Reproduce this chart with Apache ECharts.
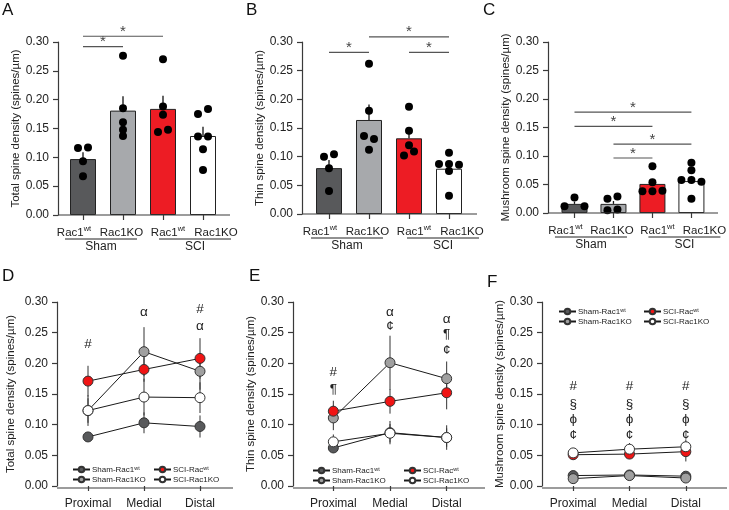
<!DOCTYPE html>
<html><head><meta charset="utf-8">
<script src="https://cdn.jsdelivr.net/npm/echarts@6/dist/echarts.min.js"></script>
<style>html,body{margin:0;padding:0;background:#fff}#c{width:729px;height:510px}</style>
</head><body><div id="c"></div>
<script>
// ---------------- DATA ----------------
const barCategories = ['Sham Rac1wt', 'Sham Rac1KO', 'SCI Rac1wt', 'SCI Rac1KO'];
const barTickMain = ['Rac1', 'Rac1KO', 'Rac1', 'Rac1KO'];
const barTickSup = ['wt', '', 'wt', ''];
const groupNames = ['Sham', 'SCI'];

const totalMean = [0.097, 0.181, 0.184, 0.137];
const totalSem = [0.012, 0.025, 0.023, 0.016];
const totalDots = [
  [0.116, 0.117, 0.093, 0.067],
  [0.276, 0.185, 0.161, 0.148, 0.137],
  [0.270, 0.188, 0.174, 0.144, 0.148],
  [0.175, 0.184, 0.136, 0.136, 0.114, 0.078]
];
const totalJitter = [[-5, 5, 0, 0], [0, 0, 0, 0, 0], [0, 0, 0, -5, 5], [-5, 5, -5, 5, 0, 0]];
const totalSig = [[0, 1, 0.292], [0, 2, 0.310]];

const thinMean = [0.080, 0.164, 0.132, 0.079];
const thinSem = [0.014, 0.027, 0.015, 0.010];
const thinDots = [
  [0.100, 0.104, 0.080, 0.040],
  [0.262, 0.180, 0.136, 0.131, 0.112],
  [0.187, 0.145, 0.120, 0.102, 0.109],
  [0.087, 0.087, 0.086, 0.107, 0.075, 0.032]
];
const thinJitter = [[-5, 5, 0, 0], [0, 0, -5, 5, 0], [0, 0, 0, -5, 5], [-10, 0, 10, 0, 0, 0]];
const thinSig = [[0, 1, 0.282], [1, 3, 0.309], [2, 3, 0.282]];

const mushMean = [0.016, 0.016, 0.051, 0.056];
const mushSem = [0.004, 0.005, 0.008, 0.009];
const mushDots = [
  [0.012, 0.027, 0.012],
  [0.025, 0.029, 0.005, 0.006],
  [0.082, 0.054, 0.038, 0.038, 0.039],
  [0.088, 0.075, 0.058, 0.058, 0.055, 0.025]
];
const mushJitter = [[-10, 0, 10], [-6, 4, -6, 4], [0, 0, -10, 0, 10], [0, 0, -10, 0, 10, 0]];
const mushSig = [[0, 3, 0.177], [0, 2, 0.152], [1, 3, 0.121], [1, 2, 0.0965]];

const locations = ['Proximal', 'Medial', 'Distal'];
const lineNames = ['Sham-Rac1wt', 'Sham-Rac1KO', 'SCI-Racwt', 'SCI-Rac1KO'];

const totalShamWt = [0.080, 0.103, 0.097], totalShamWtErr = [0.006, 0.017, 0.018];
const totalShamKO = [0.123, 0.219, 0.187], totalShamKOErr = [0.025, 0.040, 0.030];
const totalSciWt = [0.171, 0.190, 0.208], totalSciWtErr = [0.025, 0.020, 0.033];
const totalSciKO = [0.123, 0.145, 0.144], totalSciKOErr = [0.020, 0.030, 0.025];
const totalMarks = [[0, 0.231], [1, 0.284], [2, 0.288], [2, 0.261]];
const totalMarkText = ['#', 'α', '#', 'α'];

const thinShamWt = [0.062, 0.087, 0.079], thinShamWtErr = [0.008, 0.019, 0.020];
const thinShamKO = [0.111, 0.201, 0.175], thinShamKOErr = [0.020, 0.044, 0.028];
const thinSciWt = [0.122, 0.138, 0.152], thinSciWtErr = [0.017, 0.020, 0.027];
const thinSciKO = [0.072, 0.086, 0.079], thinSciKOErr = [0.012, 0.015, 0.015];
const thinMarks = [[0, 0.186], [0, 0.158], [1, 0.284], [1, 0.261], [2, 0.272], [2, 0.247], [2, 0.222]];
const thinMarkText = ['#', '¶', 'α', '¢', 'α', '¶', '¢'];

const mushShamWt = [0.017, 0.018, 0.016], mushShamWtErr = [0.003, 0.003, 0.003];
const mushShamKO = [0.012, 0.017, 0.013], mushShamKOErr = [0.003, 0.003, 0.003];
const mushSciWt = [0.051, 0.052, 0.056], mushSciWtErr = [0.006, 0.008, 0.016];
const mushSciKO = [0.054, 0.060, 0.064], mushSciKOErr = [0.006, 0.010, 0.012];
const mushMarks = [[0, 0.163], [0, 0.133], [0, 0.108], [0, 0.083],
                   [1, 0.163], [1, 0.133], [1, 0.108], [1, 0.083],
                   [2, 0.163], [2, 0.133], [2, 0.108], [2, 0.083]];
const mushMarkText = ['#', '§', 'ϕ', '¢', '#', '§', 'ϕ', '¢', '#', '§', 'ϕ', '¢'];

// ---------------- STYLE / LAYOUT ----------------
const FONT = "'Liberation Sans', Arial, Helvetica, sans-serif";
const AX = '#3a3a3a';
const barColors = ['#58595b', '#a7a9ac', '#ed1c24', '#ffffff'];
const lineFill = {'Sham-Rac1wt': '#58595b', 'Sham-Rac1KO': '#a0a0a0', 'SCI-Racwt': '#f01414', 'SCI-Rac1KO': '#ffffff'};
const labelShift = [-9, -1.5, 5, 13];   // px shift of each bar tick label relative to its tick
const panels = [
  {left: 63, width: 160, top: 42, height: 173, yOff: 5, xEnd: 230, name: 'Total spine density (spines/µm)', gap: 35, letter: 'A', lx: 2, ly: 2},
  {left: 309, width: 160, top: 42, height: 172, yOff: 7, xEnd: 477, name: 'Thin spine density (spines/µm)', gap: 32, letter: 'B', lx: 246, ly: 2},
  {left: 555, width: 157, top: 42, height: 171, yOff: 7, xEnd: 718, name: 'Mushroom spine density (spines/µm)', gap: 31, letter: 'C', lx: 483, ly: 2},
  {left: 60, width: 168, top: 302, height: 186, yOff: 3, xEnd: 233, name: 'Total spine density (spines/µm)', gap: 40, letter: 'D', lx: 2, ly: 268},
  {left: 305, width: 170, top: 302, height: 186, yOff: 12, xEnd: 485, name: 'Thin spine density (spines/µm)', gap: 27, letter: 'E', lx: 249, ly: 268},
  {left: 545, width: 169, top: 302, height: 186, yOff: 3, xEnd: 727, name: 'Mushroom spine density (spines/µm)', gap: 36, letter: 'F', lx: 487, ly: 274}
];

const barRich = {};
labelShift.forEach((d, i) => {
  const l = d > 0 ? 2 * d : 0, r = d < 0 ? -2 * d : 0;
  if (barTickSup[i]) {
    barRich['m' + i] = {fontSize: 11.5, fontFamily: FONT, color: '#222', lineHeight: 14, verticalAlign: 'bottom', padding: [0, 0, 0, l]};
    barRich['s' + i] = {fontSize: 7.5, fontFamily: FONT, color: '#222', lineHeight: 14, verticalAlign: 'top', padding: [0, r, 4, 0]};
  } else {
    barRich['m' + i] = {fontSize: 11.5, fontFamily: FONT, color: '#222', lineHeight: 14, verticalAlign: 'bottom', padding: [0, r, 0, l]};
  }
});

const grids = panels.map(p => ({left: p.left, width: p.width, top: p.top, height: p.height}));
const xAxes = panels.map((p, i) => {
  const isBar = i < 3;
  return {
    type: 'category', gridIndex: i, data: isBar ? barCategories : locations,
    axisLine: {show: false},
    axisTick: {show: true, alignWithLabel: true, length: 5, lineStyle: {color: AX, width: 1.2}},
    axisLabel: isBar ? {
      interval: 0, margin: 10, color: '#222', fontFamily: FONT, hideOverlap: false,
      formatter: (v, idx) => barTickSup[idx] ? `{m${idx}|${barTickMain[idx]}}{s${idx}|${barTickSup[idx]}}` : `{m${idx}|${barTickMain[idx]}}`,
      rich: barRich
    } : {interval: 0, margin: 12, fontSize: 12, color: '#222', fontFamily: FONT}
  };
});
const yAxes = panels.map((p, i) => ({
  type: 'value', gridIndex: i, min: 0, max: 0.3, interval: 0.05, offset: p.yOff,
  name: p.name, nameLocation: 'middle', nameGap: p.gap,
  nameTextStyle: {fontSize: 11.5, color: '#222', fontFamily: FONT},
  axisLine: {show: true, lineStyle: {color: AX, width: 1.2}},
  axisTick: {show: true, length: 5, lineStyle: {color: AX, width: 1.2}},
  axisLabel: {fontSize: 12, color: '#222', margin: 9, fontFamily: FONT, formatter: v => v.toFixed(2)},
  splitLine: {show: false}
}));

function barPanel(gi, means, sems, dots, jitter, sigs) {
  const s = [];
  s.push({type: 'bar', xAxisIndex: gi, yAxisIndex: gi, barWidth: 26, z: 2, silent: true,
    itemStyle: {borderColor: '#222', borderWidth: 1},
    data: means.map((v, i) => ({value: v, itemStyle: {color: barColors[i]}}))});
  s.push({type: 'custom', xAxisIndex: gi, yAxisIndex: gi, z: 3, silent: true,
    data: means.map((m, i) => [i, m, sems[i]]),
    renderItem: (params, api) => {
      const p0 = api.coord([api.value(0), api.value(1)]);
      const p1 = api.coord([api.value(0), api.value(1) + api.value(2)]);
      return {type: 'line', shape: {x1: p0[0], y1: p0[1], x2: p1[0], y2: p1[1]}, style: {stroke: '#111', lineWidth: 1.3}};
    }});
  const sd = [];
  dots.forEach((arr, i) => arr.forEach((v, j) => sd.push({value: [i, v], symbolOffset: [jitter[i][j], 0]})));
  s.push({type: 'scatter', xAxisIndex: gi, yAxisIndex: gi, z: 4, silent: true, symbolSize: 8,
    itemStyle: {color: '#000', opacity: 1}, data: sd});
  s.push({type: 'custom', xAxisIndex: gi, yAxisIndex: gi, z: 4, silent: true, clip: false,
    encode: {x: [0, 1], y: 2},
    data: sigs,
    renderItem: (params, api) => {
      const a = api.coord([api.value(0), api.value(2)]);
      const b = api.coord([api.value(1), api.value(2)]);
      return {type: 'group', children: [
        {type: 'line', shape: {x1: a[0], y1: a[1], x2: b[0], y2: b[1]}, style: {stroke: '#555', lineWidth: 1.2}},
        {type: 'text', style: {text: '*', x: (a[0] + b[0]) / 2, y: a[1] + 3, textAlign: 'center', textVerticalAlign: 'bottom', fontSize: 15, fontFamily: FONT, fill: '#444'}}
      ]};
    }});
  return s;
}

function linePanel(gi, vals, errs, marks, markText) {
  const s = [];
  const order = [3, 0, 1, 2];
  const errData = [];
  order.forEach(k => vals[k].forEach((v, i) => errData.push([i, v, errs[k][i]])));
  s.push({type: 'custom', xAxisIndex: gi, yAxisIndex: gi, z: 1, silent: true, data: errData,
    renderItem: (params, api) => {
      const x = api.value(0), m = api.value(1), e = api.value(2);
      const a = api.coord([x, m - e]), b = api.coord([x, m + e]);
      return {type: 'line', shape: {x1: a[0], y1: a[1], x2: b[0], y2: b[1]}, style: {stroke: '#333', lineWidth: 1}};
    }});
  order.forEach(k => {
    s.push({type: 'line', name: lineNames[k], xAxisIndex: gi, yAxisIndex: gi, z: 2 + k, silent: true,
      symbol: 'circle', symbolSize: 10, showAllSymbol: true,
      lineStyle: {color: '#1a1a1a', width: 1},
      itemStyle: {color: lineFill[lineNames[k]], borderColor: '#333', borderWidth: 1},
      data: vals[k]});
  });
  s.push({type: 'custom', xAxisIndex: gi, yAxisIndex: gi, z: 10, silent: true, clip: false, data: marks,
    renderItem: (params, api) => {
      const p = api.coord([api.value(0), api.value(1)]);
      return {type: 'text', style: {text: markText[params.dataIndex], x: p[0], y: p[1], textAlign: 'center', textVerticalAlign: 'middle', fontSize: 13.5, fontFamily: FONT, fill: '#222'}};
    }});
  return s;
}

const series = [].concat(
  barPanel(0, totalMean, totalSem, totalDots, totalJitter, totalSig),
  barPanel(1, thinMean, thinSem, thinDots, thinJitter, thinSig),
  barPanel(2, mushMean, mushSem, mushDots, mushJitter, mushSig),
  linePanel(3, [totalShamWt, totalShamKO, totalSciWt, totalSciKO], [totalShamWtErr, totalShamKOErr, totalSciWtErr, totalSciKOErr], totalMarks, totalMarkText),
  linePanel(4, [thinShamWt, thinShamKO, thinSciWt, thinSciKO], [thinShamWtErr, thinShamKOErr, thinSciWtErr, thinSciKOErr], thinMarks, thinMarkText),
  linePanel(5, [mushShamWt, mushShamKO, mushSciWt, mushSciKO], [mushShamWtErr, mushShamKOErr, mushSciWtErr, mushSciKOErr], mushMarks, mushMarkText)
);

const legendRich = {n: {fontSize: 8, fontFamily: FONT, color: '#222', lineHeight: 9}, s: {fontSize: 5.5, fontFamily: FONT, color: '#222', lineHeight: 9, verticalAlign: 'top', padding: [0, 0, 3, 0]}};
const legendFmt = name => {
  if (name === 'Sham-Rac1wt') return '{n|Sham-Rac1}{s|wt}';
  if (name === 'SCI-Racwt') return '{n|SCI-Rac}{s|wt}';
  return '{n|' + name + '}';
};
function mkLegend(left, top, names) {
  return {data: names, orient: 'vertical', left, top, itemWidth: 17, itemHeight: 7, itemGap: 1.5, padding: 0,
    selectedMode: false, formatter: legendFmt, textStyle: {rich: legendRich, fontSize: 8, padding: [0, 0, 0, -3]}};
}
const legends = [
  mkLegend(72, 465, ['Sham-Rac1wt', 'Sham-Rac1KO']), mkLegend(153, 465, ['SCI-Racwt', 'SCI-Rac1KO']),
  mkLegend(312, 466, ['Sham-Rac1wt', 'Sham-Rac1KO']), mkLegend(403, 466, ['SCI-Racwt', 'SCI-Rac1KO']),
  mkLegend(558, 307, ['Sham-Rac1wt', 'Sham-Rac1KO']), mkLegend(643, 307, ['SCI-Racwt', 'SCI-Rac1KO'])
];

const chart = echarts.init(document.getElementById('c'), null, {renderer: 'canvas'});
chart.setOption({animation: false, backgroundColor: '#fff', grid: grids, xAxis: xAxes, yAxis: yAxes, series, legend: legends});

// axis lines, letters, group labels
const g = [];
panels.forEach((p, i) => {
  const yb = p.top + p.height;
  g.push({type: 'line', shape: {x1: p.left - p.yOff, y1: yb, x2: p.xEnd, y2: yb}, style: {stroke: AX, lineWidth: 1.2}, z: 5});
  g.push({type: 'text', left: p.lx, top: p.ly, style: {text: p.letter, fontSize: 17, fontFamily: FONT, fill: '#111'}});
  if (i < 3) {
    const cx = [0, 1, 2, 3].map(k => chart.convertToPixel({xAxisIndex: i}, k));
    const shifts = [[-2, 12], [-2, 14], [-3, 12.5]][i];
    [0, 1].forEach(gk => {
      const c = (cx[gk * 2] + cx[gk * 2 + 1]) / 2 + shifts[gk];
      g.push({type: 'line', shape: {x1: c - 36, y1: yb + 24, x2: c + 36, y2: yb + 24}, style: {stroke: '#222', lineWidth: 1}, z: 5});
      g.push({type: 'text', x: c, y: yb + 26, style: {text: groupNames[gk], textAlign: 'center', textVerticalAlign: 'top', fontSize: 12, fontFamily: FONT, fill: '#222'}});
    });
  }
});
chart.setOption({graphic: g});
</script></body></html>
